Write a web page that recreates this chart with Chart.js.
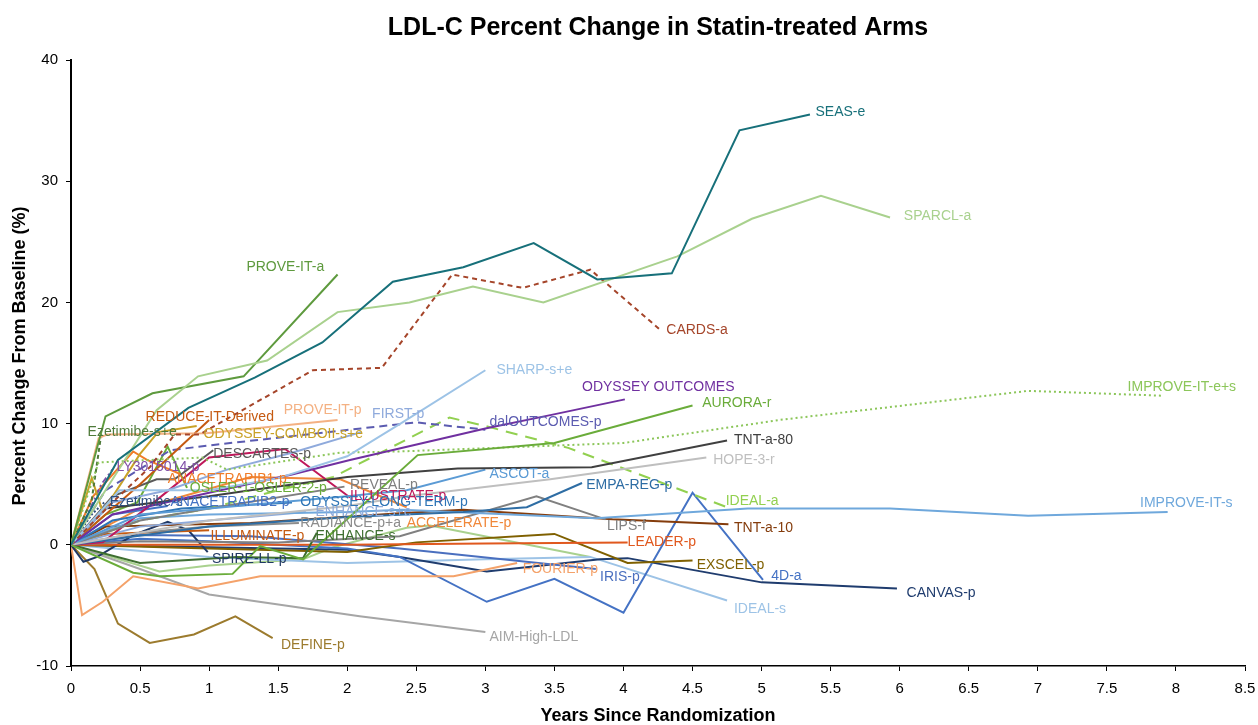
<!DOCTYPE html>
<html>
<head>
<meta charset="utf-8">
<title>LDL-C Percent Change in Statin-treated Arms</title>
<script src="https://cdn.jsdelivr.net/npm/chart.js@4.4.1/dist/chart.umd.min.js"></script>
<style>
  body { margin: 0; background: #fff; }
  canvas { display: block; }
</style>
</head>
<body>
<canvas id="ldlChart" width="1258" height="725"></canvas>
<script>
// Series values: [years since randomization, % change from baseline]
const SEAS_e = [[0,0],[0.34,7],[0.85,11.3],[1.33,13.8],[1.82,16.7],[2.33,21.7],[2.84,22.9],[3.35,24.9],[3.81,21.9],[4.35,22.4],[4.84,34.2],[5.35,35.5]];
const SPARCL_a = [[0,0],[0.25,4.5],[0.62,11.1],[0.92,13.9],[1.42,15.2],[1.93,19.2],[2.45,20.0],[2.91,21.3],[3.42,20.0],[4.39,23.8],[4.93,26.9],[5.43,28.8],[5.93,27.0]];
const PROVE_IT_a = [[0,0],[0.25,10.6],[0.59,12.5],[1.25,13.9],[1.93,22.3]];
const CARDS_a = [[0,0],[0.3,3.5],[0.57,6.4],[0.75,9.1],[0.93,9.1],[1.75,14.4],[2.25,14.6],[2.76,22.3],[3.27,21.2],[3.76,22.7],[4.27,17.7]];
const PROVE_IT_p = [[0,0],[0.2,8.8],[0.26,9.1],[0.98,9.2],[1.93,10.3]];
const FIRST_p = [[0,0],[0.3,3.5],[0.7,4.5],[1.13,6.2],[1.6,7.6],[2.1,9.3]];
const SHARP_se = [[0,0],[0.35,4.5],[1.0,4.5],[1.5,5.5],[2.0,7.3],[2.4,10.1],[3.0,14.4]];
const ODYSSEY_OUTCOMES = [[0,0],[0.3,2.5],[1.0,4.3],[1.6,5.8],[2.02,7.0],[3.0,9.6],[3.47,10.7],[4.01,12.0]];
const AURORA_r = [[0,0],[0.45,-2.3],[0.64,-2.6],[1.17,-2.4],[1.37,-0.1],[1.68,-1.2],[2.51,7.4],[3.5,8.4],[4.5,11.5]];
const IMPROVE_IT_es = [[0,0],[0.2,6.8],[0.95,7.2],[1.13,6.2],[1.95,7.6],[2.38,7.7],[4.0,8.4],[5.13,10.3],[6.93,12.7],[7.91,12.3]];
const dalOUTCOMES_p = [[0,0],[0.25,4.5],[0.72,7.8],[1.0,8.2],[2.1,9.6],[2.5,10.1],[3.0,9.5]];
const TNT_a_80 = [[0,0],[0.25,3],[1.0,4.0],[1.3,4.5],[2.0,5.6],[2.8,6.3],[3.77,6.4],[4.75,8.6]];
const HOPE_3_r = [[0,0],[1.0,2.0],[2.0,3.2],[2.43,4.0],[3.47,5.4],[4.6,7.2]];
const IDEAL_a = [[0,0],[0.5,2.0],[1.0,3.0],[1.5,4.5],[1.9,5.6],[2.74,10.5],[3.0,9.8],[3.6,8.0],[4.75,3.1]];
const ASCOT_a = [[0,0],[0.5,2.5],[1.0,3.0],[2.0,4.0],[2.43,4.5],[3.0,6.2]];
const EMPA_REG_p = [[0,0],[1.0,1.5],[2.0,2.3],[2.84,2.7],[3.3,3.1],[3.7,5.1]];
const IMPROVE_IT_s = [[0,0],[0.5,2.2],[1.0,2.5],[2.0,2.7],[2.4,2.9],[3.8,2.2],[4.9,3.0],[5.93,3.0],[6.93,2.4],[7.94,2.7]];
const LIPS_f = [[0,0],[0.5,0.3],[1.5,0.2],[2.38,0.7],[3.37,4.0],[3.87,2.1]];
const TNT_a_10 = [[0,0],[0.25,1.5],[1.3,1.8],[2.38,2.6],[2.84,2.9],[3.92,2.1],[4.76,1.7]];
const LEADER_p = [[0,0],[1,0],[2,0],[3,0.1],[4.03,0.2]];
const EXSCEL_p = [[0,0],[1,-0.3],[2,-0.6],[2.5,0.2],[3.5,0.9],[4.03,-1.5],[4.5,-1.3]];
const FOURD_a = [[0,0],[0.5,0.5],[1.0,0.3],[2.0,-0.3],[2.38,-1.0],[3.01,-4.7],[3.5,-2.8],[4.0,-5.6],[4.5,4.3],[5.01,-2.9]];
const CANVAS_p = [[0,0],[1,-0.2],[2,-0.4],[2.38,-1.0],[3.01,-2.2],[3.83,-1.2],[4.03,-1.1],[5.0,-3.1],[5.98,-3.6]];
const IDEAL_s = [[0,0],[1,-1],[2,-1.5],[3,-1.2],[3.76,-1.0],[4.75,-4.6]];
const IRIS_p = [[0,0],[0.5,0.8],[1.3,0.7],[2.38,-0.3],[3.47,-1.6],[3.8,-2.0]];
const FOURIER_p = [[0,0],[0.08,-5.8],[0.23,-4.7],[0.45,-2.6],[0.92,-3.6],[1.37,-2.6],[2.77,-2.6],[3.23,-1.5]];
const AIM_HIGH = [[0,0],[0.5,-2.0],[1.0,-4.1],[2.09,-5.9],[3.0,-7.2]];
const DEFINE_p = [[0,0],[0.17,-2.0],[0.34,-6.5],[0.57,-8.1],[0.89,-7.4],[1.19,-5.9],[1.46,-7.7]];
const SPIRE_LL_p = [[0,0],[0.09,-1.4],[0.19,-1.0],[0.45,0.8],[0.7,1.9],[0.85,1.2],[0.99,-0.6]];
const ILLUMINATE_p = [[0,0],[0.25,0.9],[1.0,1.2]];
const ENHANCE_s = [[0,0],[0.5,-1.5],[1.2,-1.0],[1.68,-1.1],[1.78,1.0]];
const RADIANCE_pa = [[0,0],[0.5,1.0],[1.0,1.5],[1.65,1.8]];
const ACCELERATE_p = [[0,0],[0.5,3.0],[1.3,5.6],[1.95,5.4],[2.43,3.1]];
const ENHANCE_se = [[0,0],[0.5,1.5],[1.0,2.0],[1.7,2.7]];
const ODYSSEY_LT_p = [[0,0],[0.3,2.0],[0.8,3.0],[1.6,3.5]];
const ILLUSTRATE_p = [[0,0],[0.23,0.2],[0.6,3.5],[1.0,7.2],[1.55,7.9],[2.02,3.9]];
const REVEAL_p = [[0,0],[0.5,2.0],[1.0,3.0],[1.98,4.8]];
const OSLER_p = [[0,0],[0.25,2.5],[0.48,3.5],[0.7,8.1],[0.84,4.7]];
const ANACETRAPIB1_p = [[0,0],[0.16,4.0],[0.45,7.7],[0.55,7.0],[0.8,5.8]];
const ANACETRAPIB2_p = [[0,0],[0.3,2.5],[0.7,3.2]];
const Ezetimibe_s = [[0,0],[0.15,2.5],[0.25,3.6]];
const LY3015014_p = [[0,0],[0.1,2.0],[0.22,5.0],[0.3,6.2]];
const DESCARTES_p = [[0,0],[0.3,4.0],[0.62,5.4],[0.75,5.4],[1.03,7.8]];
const ODYSSEY_COMBOII = [[0,0],[0.15,5.5],[0.23,2.7],[0.5,7.5],[0.63,9.3],[0.91,9.8]];
const REDUCE_IT = [[0,0],[0.5,5.0],[1.0,10.3]];
const Ezetimibe_se = [[0,0],[0.15,3.7],[0.22,9.2]];
const unlabeledGreen = [[0,0],[0.64,-2.2],[1.0,-1.7],[1.68,-1.2],[1.9,-0.2],[2.43,1.4],[2.6,1.6],[3.76,-1.0]];

// Axis ticks
const xTicks = { min: 0, max: 8.5, step: 0.5 };
const yTicks = { min: -10, max: 40, step: 10 };

// name, data, colour, dash, label anchor (data units)
const series = [
  ['SEAS-e', SEAS_e, '#17707a', [], [5.39, 35.7]],
  ['SPARCL-a', SPARCL_a, '#a9d18e', [], [6.03, 27.1]],
  ['PROVE-IT-a', PROVE_IT_a, '#5e9a3e', [], [1.27, 22.9]],
  ['CARDS-a', CARDS_a, '#a5452a', [5, 4], [4.31, 17.7]],
  ['SHARP-s+e', SHARP_se, '#9dc3e6', [], [3.08, 14.4]],
  ['ODYSSEY OUTCOMES', ODYSSEY_OUTCOMES, '#7030a0', [], [3.7, 13.0]],
  ['AURORA-r', AURORA_r, '#6aac3a', [], [4.57, 11.7]],
  ['IMPROVE-IT-e+s', IMPROVE_IT_es, '#8cc65a', [2, 3], [7.65, 13.0]],
  ['PROVE-IT-p', PROVE_IT_p, '#f4b183', [], [1.54, 11.1]],
  ['FIRST-p', FIRST_p, '#8faadc', [], [2.18, 10.8]],
  ['REDUCE-IT-Derived', REDUCE_IT, '#c55a11', [], [0.54, 10.5]],
  ['dalOUTCOMES-p', dalOUTCOMES_p, '#5b5bb0', [8, 5], [3.03, 10.1]],
  ['Ezetimibe-s+e', Ezetimibe_se, '#4f7a3a', [4, 3], [0.12, 9.3]],
  ['ODYSSEY-COMBOII-s+e', ODYSSEY_COMBOII, '#c9a227', [], [0.96, 9.1]],
  ['TNT-a-80', TNT_a_80, '#404040', [], [4.8, 8.6]],
  ['DESCARTES-p', DESCARTES_p, '#5a5a5a', [], [1.03, 7.5]],
  ['HOPE-3-r', HOPE_3_r, '#bfbfbf', [], [4.65, 7.0]],
  ['LY3015014-p', LY3015014_p, '#8050a8', [6, 3, 2, 3], [0.33, 6.4]],
  ['ANACETRAPIB1-p', ANACETRAPIB1_p, '#f07c28', [], [0.70, 5.4]],
  ['ASCOT-a', ASCOT_a, '#5b9bd5', [], [3.03, 5.8]],
  ['REVEAL-p', REVEAL_p, '#7f7f7f', [], [2.02, 4.9]],
  ['OSLER-1-OSLER-2-p', OSLER_p, '#6aac3a', [], [0.86, 4.7]],
  ['EMPA-REG-p', EMPA_REG_p, '#2e6da4', [], [3.73, 4.9]],
  ['ILLUSTRATE-p', ILLUSTRATE_p, '#c0185a', [], [2.02, 4.0]],
  ['IDEAL-a', IDEAL_a, '#92d050', [12, 8], [4.74, 3.6]],
  ['Ezetimibe-s', Ezetimibe_s, '#2f4f7f', [2, 2], [0.28, 3.5]],
  ['ANACETRAPIB2-p', ANACETRAPIB2_p, '#4472c4', [], [0.72, 3.5]],
  ['ODYSSEY-LONG-TERM-p', ODYSSEY_LT_p, '#2e75b6', [], [1.66, 3.5]],
  ['IMPROVE-IT-s', IMPROVE_IT_s, '#6fa8dc', [], [7.74, 3.4]],
  ['ENHANCE-s+e', ENHANCE_se, '#8eaadb', [], [1.77, 2.7]],
  ['LIPS-f', LIPS_f, '#808080', [], [3.88, 1.5]],
  ['TNT-a-10', TNT_a_10, '#843c0c', [], [4.8, 1.4]],
  ['RADIANCE-p+a', RADIANCE_pa, '#8c8c8c', [], [1.66, 1.8]],
  ['ACCELERATE-p', ACCELERATE_p, '#f0883a', [], [2.43, 1.8]],
  ['ILLUMINATE-p', ILLUMINATE_p, '#c55a11', [], [1.01, 0.7]],
  ['ENHANCE-s', ENHANCE_s, '#3e6e30', [], [1.77, 0.7]],
  ['LEADER-p', LEADER_p, '#e0581e', [], [4.03, 0.2]],
  ['SPIRE-LL-p', SPIRE_LL_p, '#203864', [], [1.02, -1.2]],
  ['EXSCEL-p', EXSCEL_p, '#7f6000', [], [4.53, -1.7]],
  ['FOURIER-p', FOURIER_p, '#f4a26a', [], [3.27, -2.0]],
  ['IRIS-p', IRIS_p, '#4a6fbf', [], [3.83, -2.7]],
  ['4D-a', FOURD_a, '#4472c4', [], [5.07, -2.6]],
  ['CANVAS-p', CANVAS_p, '#1f3c6e', [], [6.05, -4.0]],
  ['IDEAL-s', IDEAL_s, '#9dc3e6', [], [4.8, -5.3]],
  ['AIM-High-LDL', AIM_HIGH, '#a6a6a6', [], [3.03, -7.6]],
  ['DEFINE-p', DEFINE_p, '#9c7b2e', [], [1.52, -8.3]],
  ['', unlabeledGreen, '#a9d18e', [], null]
];

Chart.defaults.font.family = '"Liberation Sans", Arial, sans-serif';
Chart.defaults.color = '#000';

// Draw series names next to their lines
const seriesLabels = {
  id: 'seriesLabels',
  afterDatasetsDraw(chart) {
    const { ctx, scales: { x, y } } = chart;
    ctx.save();
    ctx.font = '14px "Liberation Sans", Arial, sans-serif';
    ctx.textBaseline = 'middle';
    ctx.textAlign = 'left';
    series.forEach(s => {
      if (!s[4]) return;
      ctx.fillStyle = s[2];
      ctx.fillText(s[0], x.getPixelForValue(s[4][0]), y.getPixelForValue(s[4][1]));
    });
    ctx.restore();
  }
};

// Chart title (centred over the plot area) and axis titles
const titles = {
  id: 'titles',
  afterDraw(chart) {
    const { ctx, chartArea } = chart;
    const cx = (chartArea.left + chartArea.right) / 2;
    ctx.save();
    ctx.fillStyle = '#000';
    ctx.textAlign = 'center';
    ctx.textBaseline = 'middle';
    ctx.font = 'bold 25px "Liberation Sans", Arial, sans-serif';
    ctx.fillText('LDL-C Percent Change in Statin-treated Arms', cx, 28);
    ctx.font = 'bold 18px "Liberation Sans", Arial, sans-serif';
    ctx.fillText('Years Since Randomization', cx, 716);
    ctx.translate(20, 356);
    ctx.rotate(-Math.PI / 2);
    ctx.fillText('Percent Change From Baseline (%)', 0, 0);
    ctx.restore();
  }
};

const ctx = document.getElementById('ldlChart').getContext('2d');
const ldlChart = new Chart(ctx, {
  type: 'line',
  data: {
    datasets: series.map(s => ({
      label: s[0],
      data: s[1].map(p => ({ x: p[0], y: p[1] })),
      borderColor: s[2],
      borderDash: s[3],
      borderWidth: 2,
      pointRadius: 0,
      fill: false,
      tension: 0
    }))
  },
  options: {
    responsive: false,
    animation: false,
    devicePixelRatio: 1,
    layout: { padding: { left: 0, right: 13, top: 60, bottom: 0 } },
    plugins: {
      legend: { display: false },
      tooltip: { enabled: false },
      title: { display: false }
    },
    scales: {
      x: {
        type: 'linear',
        min: xTicks.min,
        max: xTicks.max,
        ticks: { stepSize: xTicks.step, font: { size: 15 }, color: '#000', padding: 9, maxRotation: 0, autoSkip: false,
                 callback: v => String(v) },
        grid: { drawOnChartArea: false, tickLength: 5, color: '#000' },
        border: { color: '#000', width: 1.5 },
        afterFit(s) { s.height = 59; s.paddingLeft = 0; s.paddingRight = 0; }
      },
      y: {
        min: yTicks.min,
        max: yTicks.max,
        ticks: { stepSize: yTicks.step, font: { size: 15 }, color: '#000', padding: 8 },
        grid: { drawOnChartArea: false, tickLength: 5, color: '#000' },
        border: { color: '#000', width: 2 },
        afterFit(s) { s.width = 71; s.paddingTop = 0; s.paddingBottom = 0; }
      }
    }
  },
  plugins: [seriesLabels, titles]
});
</script>
</body>
</html>
